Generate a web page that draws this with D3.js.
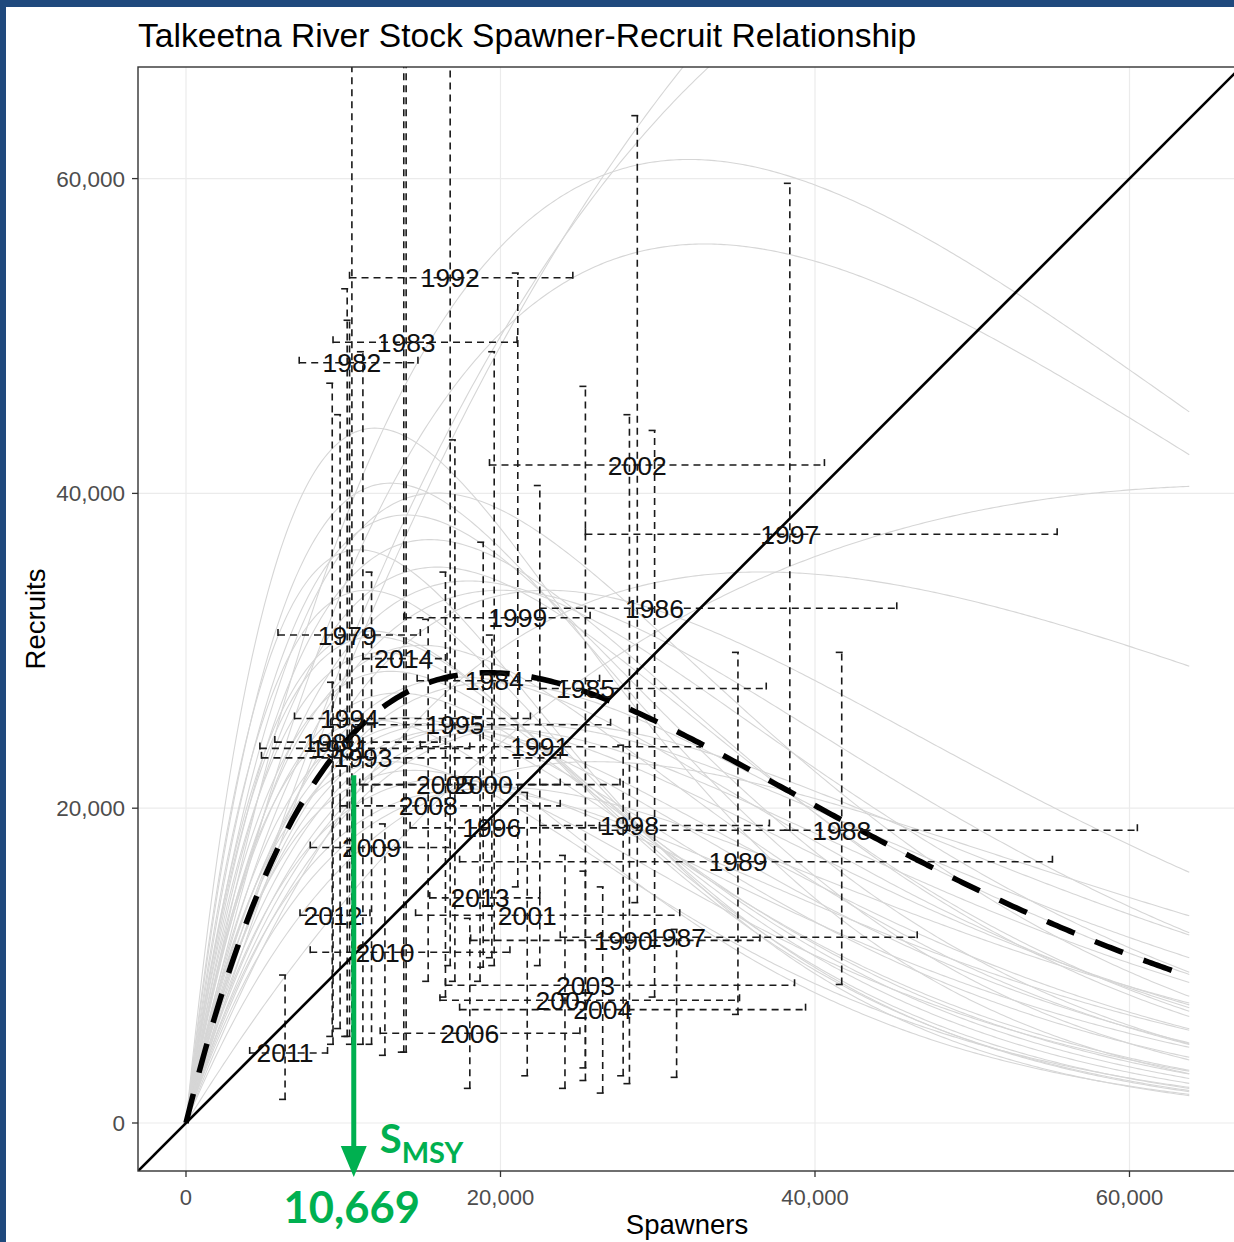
<!DOCTYPE html>
<html>
<head>
<meta charset="utf-8">
<script src="https://cdn.jsdelivr.net/npm/d3@7"></script>
<style>
  html, body { margin: 0; padding: 0; background: #fff; overflow: hidden; }
  svg { display: block; }
</style>
</head>
<body>
<svg id="chart" width="1234" height="1242"></svg>
<script>
// ---- Brood-year data: spawner escapement and recruits with 95% intervals ----
const years     = [1979, 1980, 1981, 1982, 1983, 1984, 1985, 1986, 1987, 1988, 1989, 1990, 1991, 1992, 1993, 1994, 1995, 1996, 1997, 1998, 1999, 2000, 2001, 2002, 2003, 2004, 2005, 2006, 2007, 2008, 2009, 2010, 2011, 2012, 2013, 2014];
const spawners  = [10250, 9300, 9800, 10550, 14000, 19600, 25400, 29800, 31200, 41700, 35100, 27800, 22500, 16800, 11250, 10400, 17100, 19450, 38400, 28200, 21100, 18900, 21700, 28700, 25400, 26500, 16500, 18050, 24100, 15400, 11800, 12650, 6300, 9350, 18700, 13850];
const recruits  = [31000, 24200, 23800, 48300, 49600, 28100, 27600, 32700, 11800, 18600, 16600, 11600, 23900, 53700, 23200, 25700, 25300, 18750, 37400, 18900, 32100, 21500, 13200, 41800, 8750, 7200, 21500, 5700, 7800, 20150, 17500, 10850, 4450, 13200, 14300, 29500];
const spawnLow  = [5850, 5650, 4700, 7200, 9350, 14700, 22500, 22500, 23800, 26300, 17400, 18100, 14900, 10400, 4800, 6900, 9200, 14250, 25400, 22500, 13900, 11050, 14600, 19300, 16500, 17400, 10400, 12350, 16150, 9800, 7900, 7900, 4050, 7250, 15500, 11250];
const spawnHigh = [14900, 16150, 18050, 14750, 21050, 26300, 36900, 45200, 46500, 60500, 55100, 36500, 32700, 24600, 23800, 21900, 27000, 26300, 55400, 37100, 25700, 27600, 31400, 40600, 38700, 39400, 23800, 25050, 35200, 23800, 16800, 20600, 9000, 11700, 22500, 16600];
const recLow    = [5500, 5500, 6000, 5000, 4500, 10000, 2700, 8000, 2900, 8800, 6900, 3000, 10000, 10000, 5000, 5500, 9000, 10500, 18600, 2500, 15000, 9900, 3000, 14000, 3500, 1900, 8000, 2200, 2200, 9000, 5000, 4300, 1500, 5000, 9000, 4500];
const recHigh   = [53000, 47000, 45000, 80000, 90000, 49000, 46800, 44000, 12300, 29900, 29900, 24000, 40500, 90000, 49000, 51000, 43400, 31000, 59700, 45000, 54000, 36900, 21000, 64000, 16000, 15000, 35000, 13000, 17000, 32000, 35000, 19000, 9400, 28000, 25000, 85000];

// ---- Posterior Ricker draws: R = alpha * S * exp(-S / Smax) ----
const drawAlpha = [3.2, 3.45, 5.2, 4.6, 1.62, 2.6, 10, 8.5, 7.5, 6.8, 6.5, 6, 5.2, 4.6, 4.0, 8, 7, 6.5, 6, 5.5, 5, 4.6, 4.3, 4, 3.7, 3.4, 3.2, 3.0, 5.8, 4.8, 4.2, 3.6, 3.2, 2.9, 7.2, 9, 2.4, 5.5, 4.4, 3.9];
const drawSmax  = [77000, 62000, 32000, 33000, 68000, 36600, 12000, 13000, 14000, 16000, 15500, 16000, 18000, 20000, 23000, 11500, 12000, 12500, 13000, 13500, 14000, 15000, 16000, 17000, 18500, 20000, 21500, 23000, 12000, 13000, 14500, 16500, 18000, 20000, 11800, 11000, 26000, 15000, 17500, 19500];

// Median Ricker fit
const medianAlpha = 4.05;
const medianSmax  = 19200;
const curveMaxS   = 63850;

// Spawner escapement producing maximum sustained yield
const smsy = 10669;
const smsyArrowTop = 22100;

// Axis ticks
const xTicks = [0, 20000, 40000, 60000];
const yTicks = [0, 20000, 40000, 60000];
const fmt = d3.format(",");

// ---- Layout ----
const svg = d3.select("#chart");
const panel = { left: 138, top: 67, right: 1236, bottom: 1171 };
const x = d3.scaleLinear().domain([-3052, 66773]).range([panel.left, panel.right]);
const y = d3.scaleLinear().domain([-3050, 67090]).range([panel.bottom, panel.top]);

const textFont = "'Liberation Sans', Arial, Helvetica, sans-serif";

// Blue slide frame
svg.append("rect").attr("x", 0).attr("y", 0).attr("width", 1234).attr("height", 7).attr("fill", "#1F497D");
svg.append("rect").attr("x", 0).attr("y", 0).attr("width", 6).attr("height", 1242).attr("fill", "#1F497D");

// Clip region for the plotting panel
svg.append("defs").append("clipPath").attr("id", "panelClip")
  .append("rect")
  .attr("x", panel.left).attr("y", panel.top)
  .attr("width", panel.right - panel.left).attr("height", panel.bottom - panel.top);

// Grid lines
const grid = svg.append("g");
grid.selectAll("line.gx").data(xTicks).join("line")
  .attr("x1", d => x(d)).attr("x2", d => x(d))
  .attr("y1", panel.top).attr("y2", panel.bottom)
  .attr("stroke", "#ebebeb").attr("stroke-width", 1.2);
grid.selectAll("line.gy").data(yTicks).join("line")
  .attr("x1", panel.left).attr("x2", panel.right)
  .attr("y1", d => y(d)).attr("y2", d => y(d))
  .attr("stroke", "#ebebeb").attr("stroke-width", 1.2);

const plot = svg.append("g").attr("clip-path", "url(#panelClip)");

// Ricker curves from the posterior draws
const sGrid = d3.range(0, curveMaxS + 1, 200);
const ricker = (a, smax) => s => a * s * Math.exp(-s / smax);
const line = d3.line().x(d => x(d[0])).y(d => y(d[1]));

plot.append("g").selectAll("path")
  .data(drawAlpha.map((a, i) => ({ a, smax: drawSmax[i] })))
  .join("path")
  .attr("d", d => { const f = ricker(d.a, d.smax); return line(sGrid.map(s => [s, f(s)])); })
  .attr("fill", "none")
  .attr("stroke", "#d6d6d6")
  .attr("stroke-width", 1.1);

// Error bars (spawners horizontally, recruits vertically)
const pts = years.map((yr, i) => ({
  yr, s: spawners[i], r: recruits[i],
  sLo: spawnLow[i], sHi: spawnHigh[i], rLo: recLow[i], rHi: recHigh[i]
}));

const bars = plot.append("g")
  .attr("stroke", "#1a1a1a").attr("stroke-width", 1.6)
  .attr("stroke-dasharray", "7,5").attr("fill", "none");
const cap = 6;
pts.forEach(p => {
  bars.append("line").attr("x1", x(p.sLo)).attr("x2", x(p.sHi)).attr("y1", y(p.r)).attr("y2", y(p.r));
  bars.append("line").attr("x1", x(p.sLo)).attr("x2", x(p.sLo)).attr("y1", y(p.r) - cap).attr("y2", y(p.r) + cap);
  bars.append("line").attr("x1", x(p.sHi)).attr("x2", x(p.sHi)).attr("y1", y(p.r) - cap).attr("y2", y(p.r) + cap);
  bars.append("line").attr("x1", x(p.s)).attr("x2", x(p.s)).attr("y1", y(p.rLo)).attr("y2", y(p.rHi));
  bars.append("line").attr("x1", x(p.s) - cap).attr("x2", x(p.s) + cap).attr("y1", y(p.rLo)).attr("y2", y(p.rLo));
  bars.append("line").attr("x1", x(p.s) - cap).attr("x2", x(p.s) + cap).attr("y1", y(p.rHi)).attr("y2", y(p.rHi));
});

// Replacement line (recruits = spawners)
plot.append("line")
  .attr("x1", x(-4000)).attr("y1", y(-4000))
  .attr("x2", x(70000)).attr("y2", y(70000))
  .attr("stroke", "#000").attr("stroke-width", 2.6);

// Median Ricker curve
const fMed = ricker(medianAlpha, medianSmax);
plot.append("path")
  .attr("d", line(sGrid.map(s => [s, fMed(s)])))
  .attr("fill", "none")
  .attr("stroke", "#000")
  .attr("stroke-width", 5.5)
  .attr("stroke-dasharray", "30,22");

// Year labels
plot.append("g").selectAll("text").data(pts).join("text")
  .attr("x", d => x(d.s)).attr("y", d => y(d.r))
  .attr("dy", "0.36em")
  .attr("text-anchor", "middle")
  .attr("font-family", textFont)
  .attr("font-size", 26.5)
  .attr("fill", "#111")
  .text(d => d.yr);

// Panel border
svg.append("rect")
  .attr("x", panel.left).attr("y", panel.top)
  .attr("width", panel.right - panel.left).attr("height", panel.bottom - panel.top)
  .attr("fill", "none").attr("stroke", "#333").attr("stroke-width", 1.4);

// Axes: ticks and labels
const axes = svg.append("g");
axes.selectAll("line.tx").data(xTicks).join("line")
  .attr("x1", d => x(d)).attr("x2", d => x(d))
  .attr("y1", panel.bottom).attr("y2", panel.bottom + 6)
  .attr("stroke", "#333").attr("stroke-width", 1.3);
axes.selectAll("text.tx").data(xTicks).join("text")
  .attr("x", d => x(d)).attr("y", 1205)
  .attr("text-anchor", "middle")
  .attr("font-family", textFont).attr("font-size", 22).attr("fill", "#4d4d4d")
  .text(d => fmt(d));
axes.selectAll("line.ty").data(yTicks).join("line")
  .attr("x1", panel.left - 6).attr("x2", panel.left)
  .attr("y1", d => y(d)).attr("y2", d => y(d))
  .attr("stroke", "#333").attr("stroke-width", 1.3);
axes.selectAll("text.ty").data(yTicks).join("text")
  .attr("x", 125).attr("y", d => y(d) + 8)
  .attr("text-anchor", "end")
  .attr("font-family", textFont).attr("font-size", 22.5).attr("fill", "#4d4d4d")
  .text(d => fmt(d));

// Axis titles
svg.append("text")
  .attr("x", (panel.left + panel.right) / 2).attr("y", 1234)
  .attr("text-anchor", "middle")
  .attr("font-family", textFont).attr("font-size", 27.5).attr("fill", "#000")
  .text("Spawners");
svg.append("text")
  .attr("transform", `translate(45,${(panel.top + panel.bottom) / 2}) rotate(-90)`)
  .attr("text-anchor", "middle")
  .attr("font-family", textFont).attr("font-size", 27.5).attr("fill", "#000")
  .text("Recruits");

// Title
svg.append("text")
  .attr("x", panel.left).attr("y", 47)
  .attr("font-family", textFont).attr("font-size", 33.6).attr("fill", "#000")
  .text("Talkeetna River Stock Spawner-Recruit Relationship");

// S_MSY annotation
const green = "#00B050";
const xs = x(smsy);
svg.append("line")
  .attr("x1", xs).attr("x2", xs)
  .attr("y1", y(smsyArrowTop)).attr("y2", 1146)
  .attr("stroke", green).attr("stroke-width", 5);
svg.append("path")
  .attr("d", `M${xs - 13},1146 L${xs + 13},1146 L${xs},1177 Z`)
  .attr("fill", green);
const smsyLabel = svg.append("text")
  .attr("x", xs + 26).attr("y", 1153)
  .attr("font-family", "Lato, 'Open Sans', sans-serif").attr("font-weight", 700)
  .attr("fill", green);
smsyLabel.append("tspan").attr("font-size", 40).text("S");
smsyLabel.append("tspan").attr("font-size", 29).attr("dy", 10).text("MSY");
svg.append("text")
  .attr("x", xs - 2).attr("y", 1223)
  .attr("text-anchor", "middle")
  .attr("font-family", "Lato, 'Open Sans', sans-serif").attr("font-weight", 700)
  .attr("font-size", 43.5).attr("fill", green)
  .text(fmt(smsy));
</script>
</body>
</html>
